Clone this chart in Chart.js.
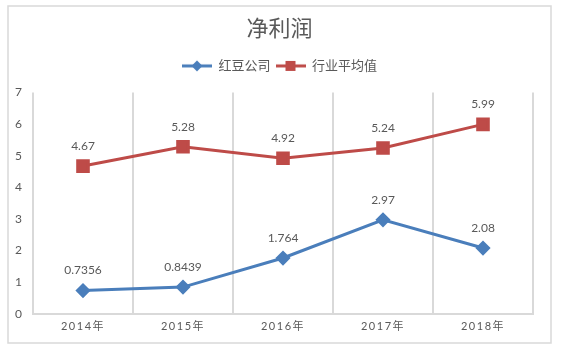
<!DOCTYPE html>
<html>
<head>
<meta charset="utf-8">
<script src="https://cdn.jsdelivr.net/npm/chart.js@4/dist/chart.umd.min.js"></script>
<style>
  html, body { margin: 0; padding: 0; background: #fff; }
  #wrap { width: 561px; height: 351px; }
</style>
</head>
<body>
<div id="wrap"><canvas id="profitChart" width="561" height="351"></canvas></div>
<script>
// 净利润 chart: company vs. industry average, 2014-2018.
const years = ["2014年", "2015年", "2016年", "2017年", "2018年"];
const hongdou = [0.7356, 0.8439, 1.764, 2.97, 2.08];
const industryAvg = [4.67, 5.28, 4.92, 5.24, 5.99];
const yTicks = [0, 1, 2, 3, 4, 5, 6, 7];

const BLUE = "#4A7EBB";
const RED = "#BE4B48";
const TEXT = "#595959";
const GRID = "#D9D9D9";
const FONT = "Lato, 'Noto Sans CJK SC', sans-serif";

// legend swatch: short line with the series marker in the middle
function swatch(color, marker) {
    const c = document.createElement("canvas");
    c.width = 30;
    c.height = 14;
    const g = c.getContext("2d");
    g.strokeStyle = color;
    g.fillStyle = color;
    g.lineWidth = 3;
    g.beginPath();
    g.moveTo(0, 7);
    g.lineTo(30, 7);
    g.stroke();
    g.beginPath();
    if (marker === "diamond") {
        g.moveTo(15, 1.5);
        g.lineTo(20.5, 7);
        g.lineTo(15, 12.5);
        g.lineTo(9.5, 7);
        g.closePath();
    } else {
        g.rect(10, 2, 10, 10);
    }
    g.fill();
    return c;
}

const frame = {
    id: "frame",
    beforeDraw(chart) {
        const ctx = chart.ctx;
        ctx.save();
        ctx.strokeStyle = GRID;
        ctx.lineWidth = 1.5;
        ctx.strokeRect(8, 6, 543, 337);
        ctx.restore();
    },
};

// extra room under the legend, and letter-spaced category labels
const layoutTweaks = {
    id: "layoutTweaks",
    beforeLayout(chart) {
        const lg = chart.legend;
        if (lg && !lg._tall) {
            const fit = lg.fit.bind(lg);
            lg.fit = () => { fit(); lg.height += 10; };
            lg._tall = true;
        }
    },
    afterLayout(chart) {
        const sc = chart.scales.x;
        if (!sc || sc._spaced) return;
        const orig = sc.drawLabels.bind(sc);
        sc.drawLabels = (area) => {
            chart.ctx.save();
            chart.ctx.letterSpacing = "1.5px";
            orig(area);
            chart.ctx.restore();
        };
        sc._spaced = true;
    },
};

const valueLabels = {
    id: "valueLabels",
    afterDatasetsDraw(chart) {
        const ctx = chart.ctx;
        ctx.save();
        ctx.font = "12px " + FONT;
        ctx.fillStyle = TEXT;
        ctx.textAlign = "center";
        ctx.textBaseline = "middle";
        chart.data.datasets.forEach((ds, i) => {
            chart.getDatasetMeta(i).data.forEach((pt, j) => {
                ctx.fillText(String(ds.data[j]), pt.x, pt.y - 20);
            });
        });
        ctx.restore();
    },
};

new Chart(document.getElementById("profitChart").getContext("2d"), {
    type: "line",
    data: {
        labels: years,
        datasets: [
            {
                label: "红豆公司",
                data: hongdou,
                borderColor: BLUE,
                backgroundColor: BLUE,
                borderWidth: 3,
                pointStyle: "rectRot",
                pointRadius: 5.5,
                pointHoverRadius: 5.5,
                tension: 0,
            },
            {
                label: "行业平均值",
                data: industryAvg,
                borderColor: RED,
                backgroundColor: RED,
                borderWidth: 3,
                pointStyle: "rect",
                pointRadius: 7.5,
                pointHoverRadius: 7.5,
                tension: 0,
            },
        ],
    },
    options: {
        responsive: false,
        animation: false,
        layout: { padding: { top: 6, left: 8, right: 10, bottom: 12 } },
        plugins: {
            title: {
                display: true,
                text: "净利润",
                color: TEXT,
                font: { family: FONT, size: 22, weight: "normal" },
                padding: { top: 10, bottom: 12 },
            },
            legend: {
                display: true,
                position: "top",
                labels: {
                    color: TEXT,
                    font: { family: FONT, size: 13 },
                    usePointStyle: true,
                    pointStyleWidth: 30,
                    padding: 5,
                    generateLabels(chart) {
                        return chart.data.datasets.map((ds, i) => ({
                            text: ds.label,
                            fontColor: TEXT,
                            pointStyle: swatch(ds.borderColor, i === 0 ? "diamond" : "square"),
                            datasetIndex: i,
                            lineWidth: 0,
                        }));
                    },
                },
            },
            tooltip: { enabled: false },
        },
        scales: {
            x: {
                offset: true,
                grid: { display: true, offset: true, color: GRID, lineWidth: 2, drawTicks: false },
                border: { display: true, color: GRID, width: 2 },
                ticks: { color: TEXT, font: { family: FONT, size: 11 }, padding: 6 },
            },
            y: {
                min: 0,
                max: 7,
                grid: { display: false },
                border: { display: false },
                afterBuildTicks: (s) => { s.ticks = yTicks.map((v) => ({ value: v })); },
                afterFit: (s) => { s.width = 25; },
                ticks: { color: TEXT, font: { family: FONT, size: 12 }, padding: 3 },
            },
            pad: {
                position: "right",
                display: true,
                grid: { display: false },
                border: { display: false },
                ticks: { display: false },
                afterFit: (s) => { s.width = 18; },
            },
        },
    },
    plugins: [frame, layoutTweaks, valueLabels],
});
</script>
</body>
</html>
